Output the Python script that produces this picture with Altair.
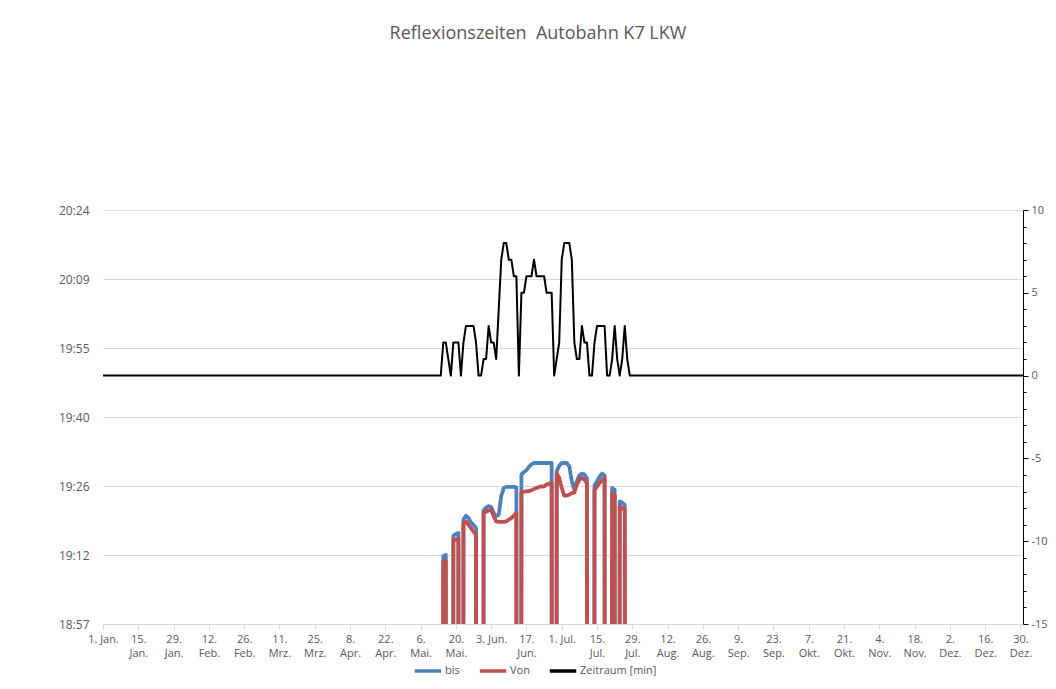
import json
import altair as alt
import pandas as pd

title_text = "Reflexionszeiten \u00a0Autobahn K7 LKW"

# day index: 0 = 1. Jan (leap year calendar), 365 = 31. Dez.
days = list(range(133, 211))
# end time ("bis") and start time ("Von"), minutes after midnight; 0 = no reflection that day
bis = [0, 0, 1151.8, 1152.0, 0, 0, 1156.0, 1156.4, 1156.6, 0,
       1159.4, 1160.2, 1159.7, 1158.8, 1158.3, 1157.6, 0, 0,
       1161.3, 1161.9, 1162.2, 1162.0, 1160.8, 1160.1, 1160.4, 1164.3, 1166.0, 1166.2,
       1166.2, 1166.2, 1166.2, 1166.1, 0,
       1168.8, 1169.3, 1169.7, 1170.4, 1170.9, 1171.2, 1171.2, 1171.2, 1171.2, 1171.2,
       1171.2, 1171.2, 1171.2, 0,
       1169.5, 1170.6, 1171.2, 1171.2, 1171.2, 1170.5, 1167.4, 1165.6, 1167.4, 1168.6,
       1169.0, 1168.8, 1168.0, 0, 0,
       1166.5, 1167.4, 1168.3, 1169.0, 1168.6, 0, 0,
       1166.0, 1165.6, 0, 1163.2, 1162.9, 1162.5, 0, 0, 0]
von = [0, 0, 1150.6, 1150.8, 0, 0, 1155.0, 1155.2, 1155.4, 0,
       1158.7, 1159.0, 1158.3, 1157.6, 1156.9, 1156.2, 0, 0,
       1160.8, 1161.0, 1161.3, 1161.5, 1160.1, 1159.0, 1158.9, 1158.9, 1158.9, 1159.0,
       1159.4, 1159.7, 1160.2, 1160.8, 0,
       1165.1, 1165.2, 1165.3, 1165.3, 1165.5, 1165.8, 1166.0, 1166.2, 1166.3, 1166.3,
       1166.7, 1166.9, 1167.0, 0,
       1169.0, 1168.1, 1166.0, 1164.4, 1164.4, 1164.6, 1164.9, 1165.0, 1166.7, 1167.7,
       1168.1, 1167.7, 1167.0, 0, 0,
       1165.5, 1166.3, 1167.0, 1167.7, 1168.1, 0, 0,
       1164.9, 1164.4, 0, 1162.1, 1161.8, 1161.4, 0, 0, 0]
# duration in minutes (right axis)
zeitraum = [0, 0, 2, 2, 1, 0, 2, 2, 2, 0,
            2, 3, 3, 3, 3, 2, 0, 0,
            1, 1, 3, 2, 2, 1, 4, 7, 8, 8,
            7, 7, 6, 6, 0,
            5, 5, 6, 6, 6, 7, 6, 6, 6, 6,
            5, 5, 5, 0,
            1, 2, 7, 8, 8, 8, 7, 2, 1, 1,
            3, 2, 2, 0, 0,
            2, 3, 3, 3, 3, 0, 0,
            1, 3, 1, 0, 1, 3, 1, 0, 0]

series_names = ["bis", "Von", "Zeitraum [min]"]
series_colors = ["#4F81BD", "#C0504D", "#000000"]

x_tick_days = [0, 14, 28, 42, 56, 70, 84, 98, 112, 126, 140, 154, 168, 182,
               196, 210, 224, 238, 252, 266, 280, 294, 308, 322, 336, 350, 364]
x_tick_labels = ["1. Jan.", "15.|Jan.", "29.|Jan.", "12.|Feb.", "26.|Feb.", "11.|Mrz.",
                 "25.|Mrz.", "8.|Apr.", "22.|Apr.", "6.|Mai.", "20.|Mai.", "3. Jun.",
                 "17.|Jun.", "1. Jul.", "15.|Jul.", "29.|Jul.", "12.|Aug.", "26.|Aug.",
                 "9.|Sep.", "23.|Sep.", "7.|Okt.", "21.|Okt.", "4.|Nov.", "18.|Nov.",
                 "2.|Dez.", "16.|Dez.", "30.|Dez."]

left_ticks = [1137.6, 1152.0, 1166.4, 1180.8, 1195.2, 1209.6, 1224.0]
right_ticks = list(range(-15, 11))

FONT = "Open Sans"
GRAY = "#595959"

# ---- tables
df_bis = pd.DataFrame({"day": days, "value": bis, "series": "bis"})
df_von = pd.DataFrame({"day": days, "value": von, "series": "Von"})
zmap = dict(zip(days, zeitraum))
df_zeit = pd.DataFrame({"day": list(range(0, 366))})
df_zeit["zeit"] = df_zeit["day"].map(lambda d: zmap.get(d, 0))
df_zeit["series"] = "Zeitraum [min]"

x_label_expr = "split({}[indexof({}, datum.value)], '|')".format(
    json.dumps(x_tick_labels), json.dumps(x_tick_days))

x_enc = alt.X(
    "day:Q",
    scale=alt.Scale(domain=[0, 365], nice=False, zero=False),
    axis=alt.Axis(values=x_tick_days, labelExpr=x_label_expr, title=None, grid=False,
                  domainColor="#d9d9d9", tickColor="#d9d9d9", tickSize=5,
                  labelColor=GRAY, labelFontSize=11, labelFont=FONT, labelLineHeight=14,
                  labelPadding=4, labelAngle=0, labelOverlap=False, labelFlush=False),
)

color_enc = alt.Color(
    "series:N",
    scale=alt.Scale(domain=series_names, range=series_colors),
    legend=alt.Legend(orient="none", legendX=310, legendY=446, direction="horizontal",
                      title=None, symbolType="stroke", symbolSize=700,
                      symbolStrokeWidth=3.5, labelFontSize=11, labelColor=GRAY,
                      labelFont=FONT, columnPadding=12, labelOffset=2, padding=0),
)

left_label_expr = ("floor(datum.value/60) + ':' + "
                   "(floor(datum.value % 60 + 1e-6) < 10 ? '0' : '') + "
                   "floor(datum.value % 60 + 1e-6)")

y_left = alt.Y(
    "value:Q",
    scale=alt.Scale(domain=[1137.6, 1224.0], nice=False, zero=False),
    axis=alt.Axis(values=left_ticks, labelExpr=left_label_expr, title=None, domain=False,
                  ticks=False, gridColor="#d9d9d9", labelPadding=14, labelColor=GRAY,
                  labelFontSize=12, labelFont=FONT),
)

line_bis = alt.Chart(df_bis).mark_line(strokeWidth=3.8, clip=True, strokeJoin="round").encode(
    x=x_enc, y=y_left, color=color_enc)
line_von = alt.Chart(df_von).mark_line(strokeWidth=3.8, clip=True, strokeJoin="round").encode(
    x=x_enc, y=y_left, color=color_enc)

y_right = alt.Y(
    "zeit:Q",
    scale=alt.Scale(domain=[-15, 10], nice=False, zero=False),
    axis=alt.Axis(orient="right", values=right_ticks, title=None, grid=False,
                  labelExpr="datum.value % 5 === 0 ? '' + datum.value : ''",
                  tickSize={"condition": {"test": "datum.value % 5 === 0", "value": 5},
                            "value": 3},
                  domainColor="black", tickColor="black", labelPadding=3,
                  labelColor=GRAY, labelFontSize=11, labelFont=FONT),
)

line_zeit = alt.Chart(df_zeit).mark_line(strokeWidth=2, strokeJoin="round").encode(
    x=x_enc, y=y_right, color=color_enc)

left_layer = alt.layer(line_bis, line_von)

chart = alt.layer(left_layer, line_zeit).resolve_scale(y="independent").properties(
    width=920,
    height=414,
    autosize=alt.AutoSizeParams(type="none"),
    padding={"left": 95, "top": 202, "right": 25, "bottom": 55},
    background="white",
    title=alt.TitleParams(text=title_text, fontSize=18, font=FONT, color=GRAY,
                          fontWeight="normal", offset=161, dx=-25, anchor="middle"),
).configure_view(stroke=None)

chart.save("out.html", embed_options={"renderer": "svg", "actions": False})
